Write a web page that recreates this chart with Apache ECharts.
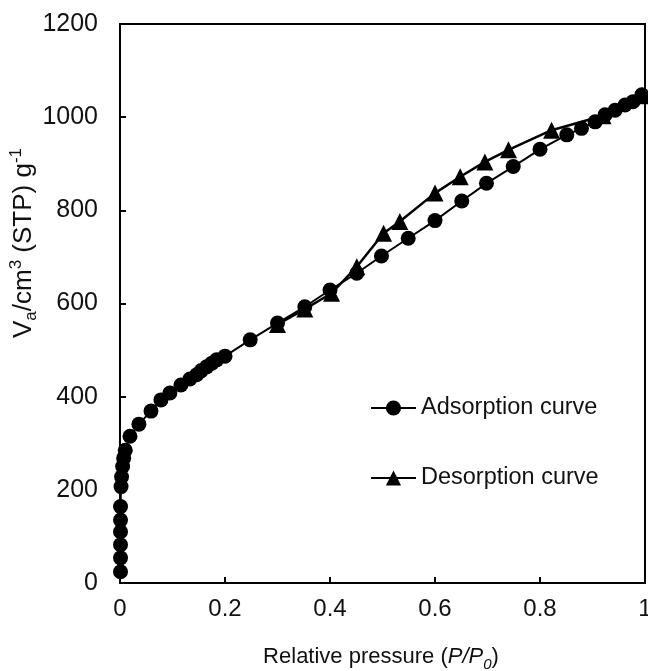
<!DOCTYPE html>
<html>
<head>
    <meta charset="UTF-8">
    <script src="https://cdn.jsdelivr.net/npm/echarts@6/dist/echarts.min.js"></script>
    <style>
    html, body { margin: 0; padding: 0; background: #fff; }
    #chart { width: 648px; height: 671px; }
    </style>
</head>
<body>
    <div id="chart"></div>
    <script>
    // relative pressure P/P0 and adsorbed volume
    var adsX = [0.001, 0.001, 0.001, 0.001, 0.001, 0.001, 0.002, 0.003, 0.005, 0.007, 0.01, 0.019,
        0.036, 0.059, 0.078, 0.095, 0.116, 0.133, 0.146, 0.155, 0.165, 0.175, 0.184, 0.2,
        0.248, 0.3, 0.352, 0.4, 0.451, 0.498, 0.549, 0.6, 0.651, 0.698, 0.749, 0.8,
        0.851, 0.879, 0.905, 0.924, 0.943, 0.962, 0.977, 0.994];
    var adsY = [24, 54, 82, 110, 135, 164, 207, 228, 250, 268, 285, 315,
        341, 369, 393, 408, 425, 438, 447, 456, 464, 472, 479, 487,
        522, 558, 593, 629, 665, 702, 740, 778, 820, 858, 894, 931,
        962, 976, 990, 1005, 1015, 1026, 1033, 1048];
    var desX = [0.995, 0.92, 0.822, 0.74, 0.695, 0.648, 0.6, 0.533, 0.502, 0.451, 0.403, 0.352, 0.3];
    var desY = [1046, 1003, 972, 930, 904, 872, 837, 776, 751, 679, 622, 588, 555];
    var xTicks = [0, 0.2, 0.4, 0.6, 0.8, 1];
    var yTicks = [0, 200, 400, 600, 800, 1000, 1200];

    function pairs(xs, ys) {
        var out = [];
        for (var i = 0; i < xs.length; i++) out.push([xs[i], ys[i]]);
        return out;
    }

    var font = '"Liberation Sans", Arial, sans-serif';
    var chart = echarts.init(document.getElementById('chart'));
    var option = {
        animation: false,
        grid: {
            left: 120, right: 3, top: 24, bottom: 88,
            outerBoundsMode: 'none',
            containLabel: false,
            show: true, borderColor: '#000', borderWidth: 2
        },
        xAxis: {
            type: 'value', min: 0, max: 1, interval: 0.2,
            splitLine: { show: false },
            axisLine: { lineStyle: { color: '#000', width: 2 } },
            axisTick: { inside: true, length: 6, lineStyle: { color: '#000', width: 2 } },
            axisLabel: {
                color: '#111', fontSize: 24, fontFamily: font, margin: 14,
                formatter: function (v) { return xTicks.indexOf(+v.toFixed(1)) >= 0 ? String(+v.toFixed(1)) : ''; }
            }
        },
        yAxis: {
            type: 'value', min: 0, max: 1200, interval: 200,
            splitLine: { show: false },
            axisLine: { lineStyle: { color: '#000', width: 2 } },
            axisTick: { inside: true, length: 6, lineStyle: { color: '#000', width: 2 } },
            axisLabel: {
                color: '#111', fontSize: 25, fontFamily: font, margin: 22,
                formatter: function (v) { return yTicks.indexOf(v) >= 0 ? String(v) : ''; }
            }
        },
        legend: {
            orient: 'vertical',
            left: 370, top: 396,
            padding: 0,
            itemWidth: 45, itemHeight: 19,
            itemGap: 46,
            data: ['Adsorption curve', 'Desorption curve'],
            textStyle: { color: '#111', fontSize: 23.5, fontFamily: font }
        },
        graphic: [{
            type: 'text',
            x: 24, y: 243, rotation: Math.PI / 2,
            style: {
                text: '{n|V}{sub|a}{n|/cm}{sup|3}{n| (STP) g}{sup|-1}',
                align: 'center', verticalAlign: 'middle',
                fill: '#111', font: '26px ' + font,
                rich: {
                    n: { fontSize: 26, fontFamily: font, fill: '#111', lineHeight: 32, verticalAlign: 'middle' },
                    sub: { fontSize: 17, fontFamily: font, fill: '#111', lineHeight: 32, verticalAlign: 'bottom' },
                    sup: { fontSize: 17, fontFamily: font, fill: '#111', lineHeight: 32, verticalAlign: 'top' }
                }
            }
        }, {
            type: 'text',
            x: 381, y: 657,
            style: {
                text: '{n|Relative pressure (}{i|P/P}{isub|0}{n|)}',
                align: 'center', verticalAlign: 'middle',
                fill: '#111', font: '22px ' + font,
                rich: {
                    n: { fontSize: 22, fontFamily: font, fill: '#111', lineHeight: 30, verticalAlign: 'middle' },
                    i: { fontSize: 22, fontFamily: font, fontStyle: 'italic', fill: '#111', lineHeight: 30, verticalAlign: 'middle' },
                    isub: { fontSize: 15, fontFamily: font, fontStyle: 'italic', fill: '#111', lineHeight: 30, verticalAlign: 'bottom' }
                }
            }
        }],
        series: [{
            name: 'Desorption curve',
            type: 'line',
            z: 2,
            data: pairs(desX, desY),
            symbol: 'triangle', symbolSize: 17,
            itemStyle: { color: '#000' },
            lineStyle: { color: '#000', width: 2.5 }
        }, {
            name: 'Adsorption curve',
            type: 'line',
            z: 3,
            data: pairs(adsX, adsY),
            symbol: 'circle', symbolSize: 15,
            itemStyle: { color: '#000' },
            lineStyle: { color: '#000', width: 2 }
        }]
    };
    chart.setOption(option);
    </script>
</body>
</html>
